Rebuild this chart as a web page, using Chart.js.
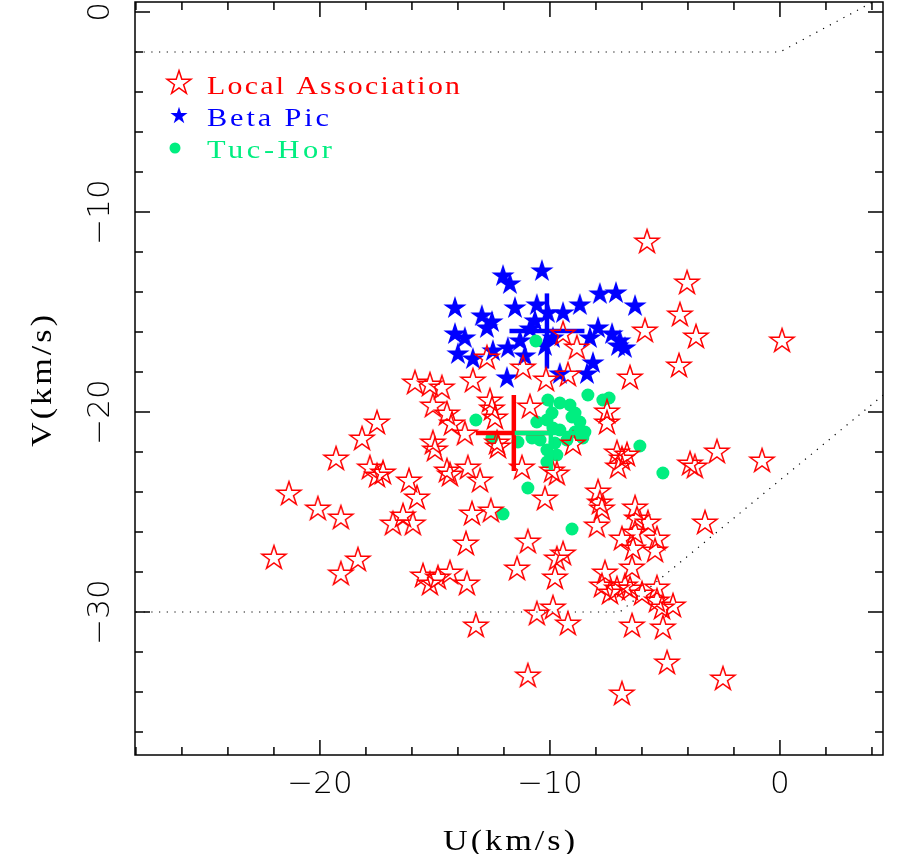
<!DOCTYPE html>
<html>
<head>
<meta charset="utf-8">
<script src="https://cdn.jsdelivr.net/npm/chart.js@4.4.0/dist/chart.umd.min.js"></script>
<style>
html, body { margin: 0; padding: 0; background: #fff; }
#wrap { width: 898px; height: 854px; }
</style>
</head>
<body>
<div id="wrap"><canvas id="uvplane" width="898" height="854"></canvas></div>
<script>
// U, V space velocities (km/s)
var localU = [-22.0, -21.35, -20.09, -19.09, -19.3, -18.17, -17.52, -17.83, -17.52, -17.26,
    -19.09, -18.35, -16.13, -15.78, -16.39, -16.83, -15.96, -15.87, -15.22, -14.7,
    -15.09, -14.48, -14.26, -13.7, -15.09, -15.0, -14.48, -14.35, -13.57, -13.04,
    -13.35, -12.61, -12.52, -12.39, -12.3, -12.26, -13.39, -12.57, -13.65, -15.52,
    -15.22, -14.87, -14.35, -13.61, -13.22, -11.43, -10.96, -10.96, -11.22, -10.87,
    -12.74, -11.17, -10.17, -9.43, -8.83, -9.22, -9.0, -9.91, -9.7, -10.22,
    -7.52, -7.52, -6.52, -5.87, -5.78, -4.04, -4.35, -3.65, -4.39, 0.09,
    -2.74, -0.78, -3.91, -3.7, -7.09, -6.87, -6.65, -7.91, -7.83, -7.74,
    -7.96, -6.3, -6.22, -5.74, -6.87, -6.3, -5.35, -6.39, -5.43, -6.43,
    -3.26, -7.61, -7.74, -7.39, -7.09, -6.74, -6.52, -6.0, -5.35, -5.35,
    -5.13, -4.65, -6.43, -5.09, -4.91, -2.48, -6.87, -9.78, -9.43, -9.7,
    -9.87, -10.57, -9.22, -7.04];
var localV = [-27.25, -24.05, -24.8, -25.25, -22.3, -21.3, -20.5, -22.75, -23.15, -23.0,
    -28.05, -27.35, -23.4, -24.25, -25.15, -25.55, -25.55, -18.5, -18.6, -18.75,
    -19.65, -20.05, -20.55, -21.05, -21.5, -21.85, -22.9, -23.1, -22.75, -23.4,
    -18.4, -19.4, -19.8, -20.25, -21.5, -21.7, -25.05, -24.9, -26.55, -28.15,
    -28.55, -28.25, -28.0, -28.55, -30.65, -27.8, -26.45, -33.15, -22.75, -19.7,
    -17.25, -17.75, -18.35, -16.05, -16.75, -18.1, -21.55, -22.9, -23.05, -24.3,
    -19.95, -20.5, -18.25, -15.9, -11.45, -13.5, -15.1, -16.2, -17.65, -16.4,
    -21.95, -22.4, -22.55, -22.7, -22.0, -22.3, -22.1, -23.95, -24.5, -24.8,
    -25.65, -24.75, -25.3, -25.5, -26.3, -26.0, -26.3, -26.8, -26.9, -27.75,
    -25.5, -28.0, -28.65, -29.0, -28.8, -28.65, -28.8, -29.05, -28.75, -29.4,
    -29.75, -29.65, -30.65, -30.75, -32.5, -33.3, -34.05, -28.25, -27.05, -27.3,
    -29.75, -30.05, -30.55, -22.7];

var betaU = [-10.35, -12.04, -11.74, -14.13, -12.96, -12.52, -12.74, -11.52, -10.57, -9.43,
    -8.7, -7.83, -7.13, -6.3, -14.13, -13.7, -14.0, -13.35, -12.48, -11.83,
    -11.3, -10.87, -10.65, -9.87, -8.26, -7.91, -7.3, -7.04, -6.74, -8.13,
    -8.39, -9.57, -11.87, -10.22, -11.09, -6.96, -10.09];
var betaV = [-12.9, -13.15, -13.55, -14.75, -15.15, -15.45, -15.75, -14.75, -14.6, -15.0,
    -14.6, -14.05, -14.0, -14.65, -16.05, -16.25, -17.05, -17.3, -16.9, -16.75,
    -16.4, -15.8, -15.4, -16.25, -16.25, -15.75, -16.05, -16.65, -16.75, -17.5,
    -18.05, -18.05, -18.25, -16.65, -17.15, -16.4, -15.0];

var tucU = [-8.35, -7.7, -7.43, -10.09, -9.57, -9.13, -8.91, -9.04, -9.91, -10.13,
    -10.57, -13.22, -9.87, -9.57, -8.91, -8.48, -8.57, -9.26, -9.78, -10.43,
    -10.78, -11.39, -12.52, -10.13, -9.7, -10.13, -6.09, -5.09, -10.96, -12.04,
    -9.04, -8.61, -8.7, -10.61];
var tucV = [-19.15, -19.4, -19.3, -19.4, -19.55, -19.65, -20.05, -20.25, -20.05, -20.4,
    -20.5, -20.4, -20.8, -20.9, -21.0, -21.0, -21.3, -21.4, -21.55, -21.4,
    -21.3, -21.5, -21.3, -21.9, -22.15, -22.5, -21.7, -23.05, -23.8, -25.1,
    -25.85, -21.25, -20.5, -16.45];

// group means with error bars: [U, V, errU, errV]
var localMean = [-11.57, -21.05, 1.65, 1.9];
var betaMean = [-10.13, -15.95, 1.63, 1.88];
var tucMean = [-9.96, -21.05, 1.57, 1.85];

// dotted boundary lines
var upperEdgeU = [-28, 0, 4.6];
var upperEdgeV = [-2, -2, 0.85];
var lowerEdgeU = [-28, -6.96, 4.6];
var lowerEdgeV = [-30, -30, -19.05];

var uTicks = [-20, -10, 0];
var vTicks = [0, -10, -20, -30];
var uRange = [-28.04, 4.48];
var vRange = [-37.15, 0.5];

var RED = '#ff0000';
var BLUE = '#0000ff';
var GREEN = '#00ee80';

function points(us, vs) {
    return us.map(function (u, i) {
        return {x: u, y: vs[i]};
    });
}

function hBar(m) {
    return [{x: m[0] - m[2], y: m[1]}, {x: m[0] + m[2], y: m[1]}];
}

function vBar(m) {
    return [{x: m[0], y: m[1] - m[3]}, {x: m[0], y: m[1] + m[3]}];
}

// five pointed star, used as point style
function starPath(ctx, cx, cy, R) {
    var r = R * 0.382;
    ctx.beginPath();
    for (var i = 0; i < 10; i++) {
        var a = -Math.PI / 2 + i * Math.PI / 5;
        var rad = (i % 2) ? r : R;
        ctx.lineTo(cx + rad * Math.cos(a), cy + rad * Math.sin(a) + R * 0.095);
    }
    ctx.closePath();
}

function starImage(size, R, color, filled) {
    var c = document.createElement('canvas');
    c.width = size;
    c.height = size;
    var ctx = c.getContext('2d');
    starPath(ctx, size / 2, size / 2, R);
    if (filled) {
        ctx.fillStyle = color;
        ctx.fill();
    } else {
        ctx.strokeStyle = color;
        ctx.lineWidth = 1.5;
        ctx.lineJoin = 'miter';
        ctx.stroke();
    }
    return c;
}

var redStar = starImage(30, 12.6, RED, false);
var blueStar = starImage(30, 12.2, BLUE, true);

// the plot font is wide: half spacing, half stretch to reach its width
function wideText(ctx, text, x, y, width) {
    ctx.letterSpacing = '0px';
    var natural = ctx.measureText(text).width;
    var gap = (width - natural) / 2 / (text.length - 1);
    ctx.letterSpacing = gap + 'px';
    var spaced = ctx.measureText(text).width - gap;
    ctx.save();
    ctx.translate(x, y);
    ctx.scale(width / spaced, 1);
    ctx.fillText(text, 0, 0);
    ctx.restore();
    ctx.letterSpacing = '0px';
}

function label(v) {
    return v < 0 ? '\u2212' + Math.abs(v) : String(v);
}

// box, inward ticks, labels, titles and the legend
var framePlugin = {
    id: 'frame',
    afterDatasetsDraw: function (chart) {
        var ctx = chart.ctx;
        var a = chart.chartArea;
        var xs = chart.scales.x;
        var ys = chart.scales.y;
        var u, v, px, len;

        ctx.save();
        ctx.strokeStyle = '#000';
        ctx.lineWidth = 1.5;
        ctx.strokeRect(a.left, a.top, a.right - a.left, a.bottom - a.top);

        ctx.beginPath();
        for (u = -28; u <= xs.max; u += 2) {
            px = xs.getPixelForValue(u);
            len = (u % 10 === 0) ? 15 : 8;
            ctx.moveTo(px, a.bottom);
            ctx.lineTo(px, a.bottom - len);
            ctx.moveTo(px, a.top);
            ctx.lineTo(px, a.top + len);
        }
        for (v = -36; v <= ys.max; v += 2) {
            px = ys.getPixelForValue(v);
            len = (v % 10 === 0) ? 15 : 8;
            ctx.moveTo(a.left, px);
            ctx.lineTo(a.left + len, px);
            ctx.moveTo(a.right, px);
            ctx.lineTo(a.right - len, px);
        }
        ctx.stroke();

        ctx.fillStyle = '#000';
        ctx.font = '200 31px "DejaVu Sans"';
        ctx.textAlign = 'center';
        ctx.textBaseline = 'middle';
        uTicks.forEach(function (t) {
            ctx.fillText(label(t), xs.getPixelForValue(t), a.bottom + 30);
        });
        vTicks.forEach(function (t) {
            ctx.save();
            ctx.translate(a.left - 34, ys.getPixelForValue(t));
            ctx.rotate(-Math.PI / 2);
            ctx.fillText(label(t), 0, 0);
            ctx.restore();
        });

        // axis titles
        ctx.font = '30px "Liberation Serif"';
        ctx.textAlign = 'left';
        ctx.textBaseline = 'alphabetic';
        wideText(ctx, 'U(km/s)', 443, 850, 132);
        ctx.save();
        ctx.translate(51, 381);
        ctx.rotate(-Math.PI / 2);
        wideText(ctx, 'V(km/s)', -66, 0, 132);
        ctx.restore();

        // legend
        ctx.font = '26px "Liberation Serif"';
        ctx.drawImage(redStar, 179 - 15, 82 - 15);
        ctx.fillStyle = RED;
        wideText(ctx, 'Local Association', 207, 94, 253);

        ctx.fillStyle = BLUE;
        starPath(ctx, 179, 115, 9);
        ctx.fill();
        wideText(ctx, 'Beta Pic', 207, 126, 122);

        ctx.fillStyle = GREEN;
        ctx.beginPath();
        ctx.arc(175, 148, 5.5, 0, Math.PI * 2);
        ctx.fill();
        wideText(ctx, 'Tuc-Hor', 207, 158, 125);

        ctx.restore();
    }
};

function barSet(data, color, order) {
    return {
        data: data,
        showLine: true,
        borderColor: color,
        borderWidth: 4.5,
        pointRadius: 0,
        order: order
    };
}

function edgeSet(us, vs) {
    return {
        data: points(us, vs),
        showLine: true,
        borderColor: '#000',
        borderWidth: 1.2,
        borderDash: [1.2, 6.5],
        pointRadius: 0,
        order: 9
    };
}

var ctx = document.getElementById('uvplane');
new Chart(ctx, {
    type: 'scatter',
    data: {
        datasets: [
            barSet(hBar(tucMean), GREEN, 0),
            barSet(vBar(tucMean), GREEN, 0),
            barSet(hBar(localMean), RED, 1),
            barSet(vBar(localMean), RED, 1),
            {
                label: 'Local Association',
                data: points(localU, localV),
                pointStyle: redStar,
                pointRadius: 12,
                order: 2
            },
            {
                label: 'Tuc-Hor',
                data: points(tucU, tucV),
                pointStyle: 'circle',
                pointRadius: 6.5,
                pointBorderWidth: 0,
                pointBackgroundColor: GREEN,
                pointBorderColor: GREEN,
                order: 3
            },
            barSet(hBar(betaMean), BLUE, 4),
            barSet(vBar(betaMean), BLUE, 4),
            {
                label: 'Beta Pic',
                data: points(betaU, betaV),
                pointStyle: blueStar,
                pointRadius: 12,
                order: 5
            },
            edgeSet(upperEdgeU, upperEdgeV),
            edgeSet(lowerEdgeU, lowerEdgeV)
        ]
    },
    options: {
        responsive: false,
        animation: false,
        events: [],
        layout: {
            autoPadding: false,
            padding: {left: 135, right: 15, top: 2, bottom: 99}
        },
        plugins: {
            legend: {display: false},
            tooltip: {enabled: false}
        },
        scales: {
            x: {type: 'linear', display: false, min: uRange[0], max: uRange[1]},
            y: {type: 'linear', display: false, min: vRange[0], max: vRange[1]}
        }
    },
    plugins: [framePlugin]
});
</script>
</body>
</html>
